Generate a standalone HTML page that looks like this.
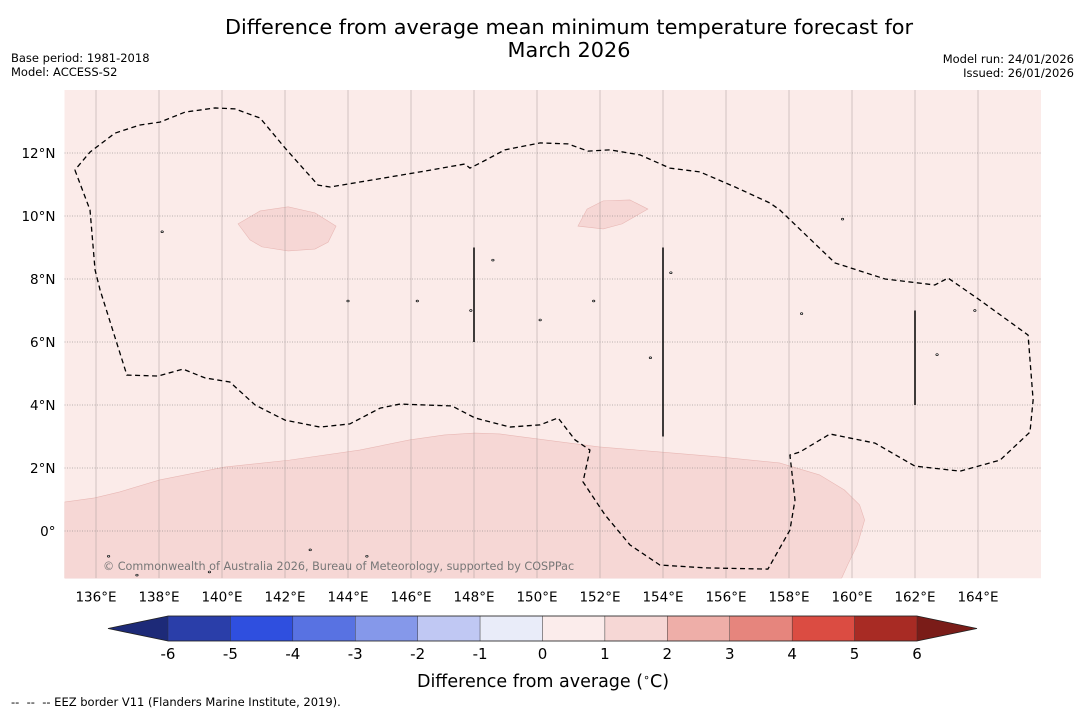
<!DOCTYPE html>
<html><head><meta charset="utf-8"><style>
body{margin:0;background:#fff;font-family:"Liberation Sans","DejaVu Sans",sans-serif;}
</style></head><body>
<svg id="c" width="1085" height="713" xmlns="http://www.w3.org/2000/svg" font-family="DejaVu Sans, Liberation Sans, sans-serif">
<rect width="1085" height="713" fill="#fff"/>
<text x="569" y="34" text-anchor="middle" font-size="20.8">Difference from average mean minimum temperature forecast for</text>
<text x="569" y="57" text-anchor="middle" font-size="20.8">March 2026</text>
<text x="11" y="62" font-size="11.5">Base period: 1981-2018</text>
<text x="11" y="76" font-size="11.5">Model: ACCESS-S2</text>
<text x="1074" y="63" font-size="11.5" text-anchor="end">Model run: 24/01/2026</text>
<text x="1074" y="77" font-size="11.5" text-anchor="end">Issued: 26/01/2026</text>
<g id="map"></g>
<g id="cb"></g>
<text x="543" y="687" text-anchor="middle" font-size="17.5">Difference from average (<tspan font-size="11" dy="-6">∘</tspan><tspan dy="6">C)</tspan></text>
<text x="11" y="706" font-size="11.5">-- &nbsp;-- &nbsp;-- EEZ border V11 (Flanders Marine Institute, 2019).</text>
</svg>
<script>
const lonTicks=[136,138,140,142,144,146,148,150,152,154,156,158,160,162,164];
const latTicks=[0,2,4,6,8,10,12];
const cbLevels=[-6,-5,-4,-3,-2,-1,0,1,2,3,4,5,6];
const cbColors=["#2a3ea9","#2f4fdf","#5872e2","#8598ea","#c0c8f3","#e9ecf9","#fbeceb","#f6d7d5","#eeaea8","#e6857d","#db4c42","#a82b24"];
const eezLon=[135.33,135.81,135.97,136.13,136.98,137.97,138.76,139.46,140.25,141.05,142.0,143.11,144.06,145.02,145.65,147.30,148.03,149.14,150.10,150.67,151.21,151.68,151.46,152.16,152.95,153.90,155.33,157.33,158.03,158.19,158.03,158.35,159.30,160.73,162.0,163.43,164.70,165.65,165.75,165.59,164.06,163.05,162.63,161.05,159.46,157.71,157.40,156.29,155.17,154.22,153.27,152.32,151.62,150.98,150.10,148.98,148.25,147.87,147.71,146.29,143.43,143.05,142.0,141.21,140.41,139.78,138.83,138.03,137.40,136.60,135.81,135.33];
const eezLat=[11.46,10.19,8.29,7.65,4.95,4.92,5.14,4.86,4.73,4.0,3.52,3.30,3.40,3.90,4.03,3.97,3.59,3.30,3.37,3.59,2.89,2.57,1.56,0.51,-0.44,-1.08,-1.17,-1.21,0.03,0.98,2.41,2.51,3.08,2.79,2.06,1.90,2.25,3.14,4.16,6.22,7.33,8.03,7.81,8.0,8.51,10.19,10.41,10.92,11.40,11.52,11.94,12.10,12.06,12.29,12.32,12.10,11.71,11.52,11.65,11.40,10.92,10.98,12.16,13.11,13.40,13.43,13.30,12.98,12.89,12.63,12.03,11.46];
const patchSouthLon=[135,135.95,136.75,138.02,140.08,142.14,144.37,145.95,147.06,148.02,148.82,150.72,151.98,153.89,155.79,157.70,158.97,159.76,160.24,160.40,160.17,159.86,159.67,135];
const patchSouthLat=[0.92,1.05,1.24,1.62,2.03,2.25,2.57,2.89,3.05,3.11,3.08,2.83,2.67,2.51,2.35,2.16,1.78,1.30,0.83,0.35,-0.44,-1.08,-1.5,-1.5];
const patchWestLon=[140.51,141.21,142.10,142.95,143.62,143.37,142.95,142.10,141.27,140.89];
const patchWestLat=[9.75,10.16,10.29,10.10,9.68,9.17,8.95,8.89,9.02,9.24];
const patchEastLon=[151.30,151.59,152.10,152.95,153.52,152.70,152.10];
const patchEastLat=[9.68,10.22,10.48,10.51,10.22,9.75,9.59];
const vLinesLon=[148,154,162], vLinesLat0=[6,3,4], vLinesLat1=[9,9,7];
const islandLon=[138.1,136.4,148.6,146.2,151.8,154.25,158.4,162.7,163.9,159.7,153.6,147.9,137.3,139.6,142.8,144.0,150.1,144.6],
      islandLat=[9.5,-0.8,8.6,7.3,7.3,8.2,6.9,5.6,7.0,9.9,5.5,7.0,-1.4,-1.3,-0.6,7.3,6.7,-0.8];

const NS="http://www.w3.org/2000/svg";
const X0=64.5,Y0=531,K=31.5;
const x=lon=>X0+(lon-135)*K, y=lat=>Y0-lat*K;
function mk(t,a,p){const e=document.createElementNS(NS,t);for(const k in a)e.setAttribute(k,a[k]);p.appendChild(e);return e;}
const map=document.getElementById('map');
const L=x(135),R=x(166),T=y(14),B=y(-1.5);
const cp=mk('clipPath',{id:'mc'},map);mk('rect',{x:L,y:T,width:R-L,height:B-T},cp);
const bg=mk('rect',{x:L,y:T,width:R-L,height:B-T,fill:'#fbebe9'},map);


const g=mk('g',{'clip-path':'url(#mc)'},map);
function poly(lo,la,name){const p=mk('polygon',{points:lo.map((v,i)=>x(v)+','+y(la[i])).join(' '),fill:'#f6d7d5',stroke:'#e8b8b5','stroke-width':0.6},g);

}
poly(patchSouthLon,patchSouthLat,'anomaly-patch-south');
poly(patchWestLon,patchWestLat,'anomaly-patch-west');
poly(patchEastLon,patchEastLat,'anomaly-patch-east');
lonTicks.forEach(v=>{const l=mk('line',{x1:x(v),x2:x(v),y1:T,y2:B,stroke:'#a89a99','stroke-width':0.5},g);


const t=mk('text',{x:x(v),y:B+23,'text-anchor':'middle','font-size':13.5},map);t.textContent=v+'°E';

});
latTicks.forEach(v=>{const l=mk('line',{x1:L,x2:R,y1:y(v),y2:y(v),stroke:'#777','stroke-width':0.6,'stroke-dasharray':'1,1.5'},g);


const t=mk('text',{x:L-9,y:y(v)+5,'text-anchor':'end','font-size':13.5},map);t.textContent=v===0?'0°':v+'°N';

});
const eez=mk('polyline',{points:eezLon.map((v,i)=>x(v)+','+y(eezLat[i])).join(' '),fill:'none',stroke:'#000','stroke-width':1.3,'stroke-dasharray':'5,3.5'},g);


vLinesLon.forEach((v,i)=>{const l=mk('line',{x1:x(v),x2:x(v),y1:y(vLinesLat0[i]),y2:y(vLinesLat1[i]),stroke:'#000','stroke-width':1.5},g);

});
islandLon.forEach((v,i)=>{const c=mk('ellipse',{cx:x(v),cy:y(islandLat[i]),rx:1.2,ry:0.9,fill:'#fff',stroke:'#000','stroke-width':0.7},g);

});
const cr=mk('text',{x:103,y:570,'font-size':11.2,fill:'#777'},g);cr.textContent='© Commonwealth of Australia 2026, Bureau of Meteorology, supported by COSPPac';



const cb=document.getElementById('cb');
const C0=168,C1=917,CT=616,CB=641;
const cx=v=>C0+(v-cbLevels[0])*(C1-C0)/(cbLevels[cbLevels.length-1]-cbLevels[0]);
const tl=mk('polygon',{points:`${C0},${CT} ${108},${(CT+CB)/2} ${C0},${CB}`,fill:'#1d2a78'},cb);


const tr=mk('polygon',{points:`${C1},${CT} ${977},${(CT+CB)/2} ${C1},${CB}`,fill:'#7a1c18'},cb);


cbColors.forEach((c,i)=>{const r=mk('rect',{x:cx(cbLevels[i]),y:CT,width:cx(cbLevels[i+1])-cx(cbLevels[i]),height:CB-CT,fill:c,stroke:'#333','stroke-width':0.4},cb);

});
mk('polygon',{points:`${108},${(CT+CB)/2} ${C0},${CT} ${C1},${CT} ${977},${(CT+CB)/2} ${C1},${CB} ${C0},${CB}`,fill:'none',stroke:'#222','stroke-width':0.8},cb);
cbLevels.forEach(v=>{const t=mk('text',{x:cx(v),y:659,'text-anchor':'middle','font-size':15},cb);t.textContent=v;

});
</script>
</body></html>
